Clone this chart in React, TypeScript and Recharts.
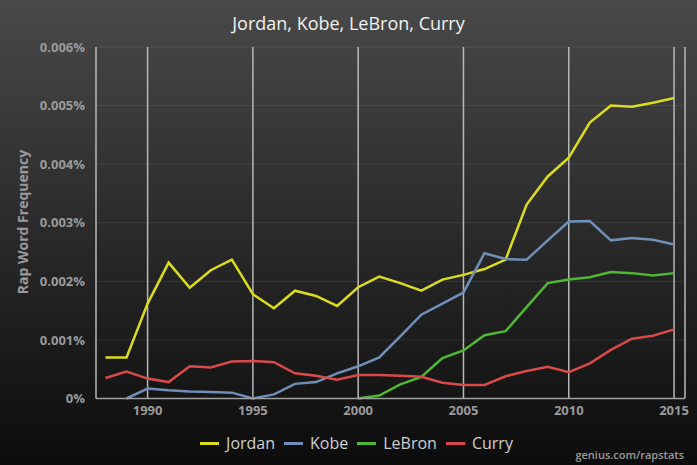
import React from 'react';
import { LineChart, Line, XAxis, YAxis, CartesianGrid } from 'recharts';

// Rap word frequency (in %) per year
const years = [
  1988, 1989, 1990, 1991, 1992, 1993, 1994, 1995, 1996, 1997, 1998, 1999, 2000, 2001,
  2002, 2003, 2004, 2005, 2006, 2007, 2008, 2009, 2010, 2011, 2012, 2013, 2014, 2015,
];

const jordan = [
  0.0007, 0.0007, 0.00162, 0.00232, 0.00189, 0.00219, 0.00237, 0.00178, 0.00154, 0.00184,
  0.00175, 0.00158, 0.0019, 0.00208, 0.00197, 0.00184, 0.00203, 0.00211, 0.00221, 0.00237,
  0.00331, 0.00379, 0.00411, 0.00471, 0.005, 0.00498, 0.00505, 0.00513,
];

const kobe = [
  null, 0, 0.00017, 0.00014, 0.00012, 0.00011, 0.0001, 0, 0.00007, 0.00025,
  0.00028, 0.00043, 0.00055, 0.0007, 0.00106, 0.00143, 0.00162, 0.00181, 0.00248, 0.00238,
  0.00237, 0.0027, 0.00302, 0.00303, 0.0027, 0.00274, 0.00271, 0.00263,
];

const lebron = [
  null, null, null, null, null, null, null, null, null, null,
  null, null, 0, 0.00005, 0.00024, 0.00037, 0.00069, 0.00082, 0.00108, 0.00115,
  0.00156, 0.00197, 0.00203, 0.00207, 0.00216, 0.00214, 0.0021, 0.00214,
];

const curry = [
  0.00035, 0.00046, 0.00034, 0.00028, 0.00055, 0.00053, 0.00063, 0.00064, 0.00062, 0.00043,
  0.00039, 0.00032, 0.0004, 0.0004, 0.00039, 0.00037, 0.00027, 0.00023, 0.00023, 0.00038,
  0.00047, 0.00054, 0.00045, 0.0006, 0.00083, 0.00102, 0.00107, 0.00118,
];

const xTicks = [1990, 1995, 2000, 2005, 2010, 2015];
const yTicks = [0, 0.001, 0.002, 0.003, 0.004, 0.005, 0.006];

const series = [
  { key: 'jordan', name: 'Jordan', color: '#dcdc1e' },
  { key: 'kobe', name: 'Kobe', color: '#6f8fb9' },
  { key: 'lebron', name: 'LeBron', color: '#4fb833' },
  { key: 'curry', name: 'Curry', color: '#d84a4a' },
];

const data = years.map((year, i) => ({
  year,
  jordan: jordan[i],
  kobe: kobe[i],
  lebron: lebron[i],
  curry: curry[i],
}));

const font = '"Open Sans", "DejaVu Sans", sans-serif';

const formatPct = (v: number) => (v === 0 ? '0%' : `${v.toFixed(3)}%`);

const App: React.FC = () => {
  return (
    <div
      style={{
        position: 'absolute',
        left: 0,
        top: 0,
        width: 697,
        height: 465,
        background: 'linear-gradient(to bottom, #494949 0%, #2a2a2a 50%, #0c0c0c 100%)',
        fontFamily: font,
        overflow: 'hidden',
      }}
    >
      <div
        style={{
          position: 'absolute',
          top: 13,
          left: 0,
          width: 697,
          textAlign: 'center',
          color: '#f2f2f2',
          fontSize: 18,
          lineHeight: '20px',
        }}
      >
        Jordan, Kobe, LeBron, Curry
      </div>

      <div
        style={{
          position: 'absolute',
          left: 22,
          top: 222,
          transform: 'translate(-50%, -50%) rotate(-90deg)',
          color: '#9a9a9a',
          fontSize: 14,
          fontWeight: 700,
          whiteSpace: 'nowrap',
        }}
      >
        Rap Word Frequency
      </div>

      <LineChart
        width={697}
        height={465}
        data={data}
        margin={{ top: 47, right: 12, bottom: 36.5, left: 0 }}
        style={{ position: 'absolute', left: 0, top: 0 }}
      >
        <CartesianGrid vertical={false} stroke="rgba(255,255,255,0.09)" strokeWidth={1} />
        <CartesianGrid horizontal={false} stroke="#b8b8b8" strokeWidth={1.5} />
        <XAxis
          dataKey="year"
          type="number"
          domain={[1987.55, 2015.52]}
          ticks={xTicks}
          allowDataOverflow
          height={30}
          tickLine={false}
          tickSize={0}
          tickMargin={7}
          axisLine={{ stroke: '#a0a0a0', strokeWidth: 1.5 }}
          tick={{ fill: '#9a9a9a', fontSize: 13, fontWeight: 700, fontFamily: font }}
        />
        <YAxis
          width={96}
          domain={[0, 0.006]}
          ticks={yTicks}
          tickFormatter={formatPct}
          axisLine={false}
          tickLine={false}
          tickSize={0}
          tickMargin={11}
          tick={{ fill: '#9a9a9a', fontSize: 13, fontWeight: 700, fontFamily: font }}
        />
        {series.map((s) => (
          <Line
            key={s.key}
            type="linear"
            dataKey={s.key}
            name={s.name}
            stroke={s.color}
            strokeWidth={2.5}
            dot={false}
            isAnimationActive={false}
          />
        ))}
      </LineChart>

      <div
        style={{
          position: 'absolute',
          top: 432,
          left: 8,
          width: 697,
          display: 'flex',
          justifyContent: 'center',
          alignItems: 'center',
          height: 22,
        }}
      >
        {series.map((s, i) => (
          <div
            key={s.key}
            style={{ display: 'flex', alignItems: 'center', marginRight: i < series.length - 1 ? 9 : 0 }}
          >
            <span style={{ display: 'inline-block', width: 19, height: 3, background: s.color, marginRight: 7 }} />
            <span style={{ color: '#cfcfcf', fontSize: 16 }}>{s.name}</span>
          </div>
        ))}
      </div>

      <div
        style={{
          position: 'absolute',
          right: 13,
          top: 447,
          color: '#9a9a9a',
          fontSize: 11,
          fontWeight: 600,
        }}
      >
        genius.com/rapstats
      </div>
    </div>
  );
};

export default App;
